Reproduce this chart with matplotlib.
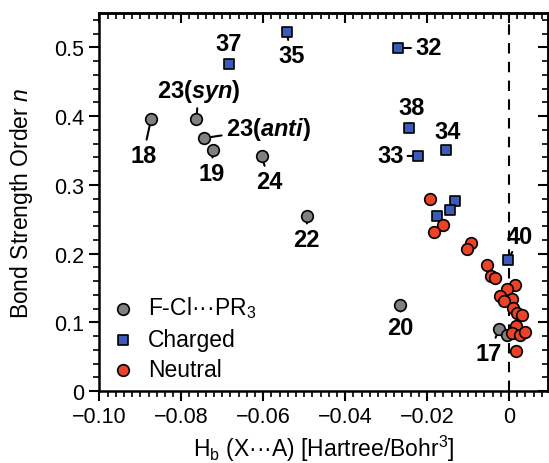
import numpy as np
import matplotlib
matplotlib.use("Agg")
import matplotlib.pyplot as plt
from matplotlib.ticker import MultipleLocator, FuncFormatter

plt.rcParams['font.family'] = ['Liberation Sans', 'DejaVu Sans']
plt.rcParams['mathtext.fontset'] = 'custom'
plt.rcParams['mathtext.rm'] = 'Liberation Sans'
plt.rcParams['mathtext.it'] = 'Liberation Sans:italic'
plt.rcParams['mathtext.bf'] = 'Liberation Sans:bold'
plt.rcParams['mathtext.bfit'] = 'Liberation Sans:italic:bold'

# F-Cl...PR3 systems (gray circles)
fcl_x = [-0.0874, -0.0763, -0.0744, -0.0723, -0.0604, -0.0493, -0.0265, -0.0024, -0.0004]
fcl_y = [0.395, 0.395, 0.368, 0.350, 0.342, 0.254, 0.125, 0.090, 0.082]

# charged complexes (blue squares)
chg_x = [-0.0684, -0.0543, -0.0272, -0.0244, -0.0153, -0.0223, -0.0132, -0.0143, -0.0175, -0.0002]
chg_y = [0.475, 0.522, 0.499, 0.382, 0.350, 0.342, 0.277, 0.264, 0.254, 0.190]

# neutral complexes (red circles)
neu_x = [-0.0193, -0.0162, -0.0183, -0.0092, -0.0102, -0.0054, -0.0043, -0.0033,
         0.0014, -0.0004, -0.0022, 0.0007, -0.0012, 0.0009, 0.0019, 0.0031,
         0.0018, 0.0007, 0.0027, 0.0038, 0.0018]
neu_y = [0.280, 0.241, 0.232, 0.216, 0.206, 0.184, 0.167, 0.165,
         0.154, 0.148, 0.139, 0.134, 0.131, 0.121, 0.113, 0.110,
         0.094, 0.085, 0.081, 0.086, 0.059]

# labelled points: (label, point x, point y, text x, text y)
labels = [
    ('37', -0.0684, 0.475, -0.0685, 0.505),
    ('35', -0.0543, 0.522, -0.0531, 0.488),
    ('23($\\mathbfit{syn}$)', -0.0763, 0.395, -0.0758, 0.437),
    ('23($\\mathbfit{anti}$)', -0.0744, 0.368, -0.0588, 0.382),
    ('18', -0.0874, 0.395, -0.0893, 0.343),
    ('19', -0.0723, 0.350, -0.0726, 0.317),
    ('24', -0.0604, 0.342, -0.0585, 0.305),
    ('22', -0.0493, 0.254, -0.0494, 0.221),
    ('20', -0.0265, 0.125, -0.0265, 0.093),
    ('17', -0.0024, 0.090, -0.0049, 0.055),
    ('40', -0.0002, 0.190, 0.0026, 0.225),
    ('32', -0.0272, 0.499, -0.0197, 0.499),
    ('38', -0.0244, 0.382, -0.0238, 0.412),
    ('34', -0.0153, 0.350, -0.0149, 0.378),
    ('33', -0.0223, 0.342, -0.0290, 0.342),
]

fig = plt.figure(figsize=(5.49, 4.64), dpi=100)
ax = fig.add_axes([0.181, 0.155, 0.817, 0.815])

ax.axvline(0, color='black', lw=1.5, ls=(0, (5, 4)), zorder=1)

ax.scatter(fcl_x, fcl_y, s=70, marker='o', color='#808080', edgecolor='black',
           linewidth=1.2, zorder=3, label='F-Cl···PR$_3$')
ax.scatter(chg_x, chg_y, s=55, marker='s', color='#3a5cb8', edgecolor='black',
           linewidth=1.2, zorder=4, label='Charged')
ax.scatter(neu_x, neu_y, s=70, marker='o', color='#ec4328', edgecolor='black',
           linewidth=1.2, zorder=5, label='Neutral')

for text, px, py, tx, ty in labels:
    ax.annotate(text, xy=(px, py), xytext=(tx, ty), ha='center', va='center',
                fontsize=17, fontweight='bold', zorder=2,
                arrowprops=dict(arrowstyle='-', lw=1.5, color='black',
                                shrinkA=1, shrinkB=0))

ax.set_xlim(-0.1, 0.0095)
ax.set_ylim(0, 0.55)

ax.xaxis.set_major_locator(MultipleLocator(0.02))
ax.xaxis.set_minor_locator(MultipleLocator(0.002))
ax.yaxis.set_major_locator(MultipleLocator(0.1))
ax.yaxis.set_minor_locator(MultipleLocator(0.02))

ax.xaxis.set_major_formatter(FuncFormatter(lambda v, p: '0' if abs(v) < 1e-9 else f'{v:.2f}'.replace('-', '\u2212')))
ax.yaxis.set_major_formatter(FuncFormatter(lambda v, p: '0' if abs(v) < 1e-9 else f'{v:g}'))

ax.tick_params(axis='both', which='major', labelsize=15.5, length=7.5, width=1.5, direction='out')
ax.tick_params(axis='both', which='minor', length=4.5, width=1.2, direction='out')

# mirrored ticks on top and right, pointing inwards
axt = ax.secondary_xaxis('top')
axt.xaxis.set_major_locator(MultipleLocator(0.02))
axt.xaxis.set_minor_locator(MultipleLocator(0.002))
axt.tick_params(which='major', direction='in', length=7, width=1.5, labeltop=False)
axt.tick_params(which='minor', direction='in', length=4, width=1.2)
axr = ax.secondary_yaxis('right')
axr.yaxis.set_major_locator(MultipleLocator(0.1))
axr.yaxis.set_minor_locator(MultipleLocator(0.02))
axr.tick_params(which='major', direction='in', length=7, width=1.5, labelright=False)
axr.tick_params(which='minor', direction='in', length=4, width=1.2)

for sp in ax.spines.values():
    sp.set_linewidth(1.8)
axt.spines['top'].set_linewidth(1.8)
axr.spines['right'].set_linewidth(1.8)

ax.set_xlabel('H$_\\mathrm{b}$ (X···A) [Hartree/Bohr$^3$]', fontsize=16.5, labelpad=4)
ax.set_ylabel('Bond Strength Order $n$', fontsize=16.5, labelpad=14)

ax.legend(loc='lower left', bbox_to_anchor=(-0.03, -0.01), frameon=False, fontsize=16.5,
          handletextpad=0.1, labelspacing=0.32, borderaxespad=0.2)

fig.savefig('out.png', dpi=100)
